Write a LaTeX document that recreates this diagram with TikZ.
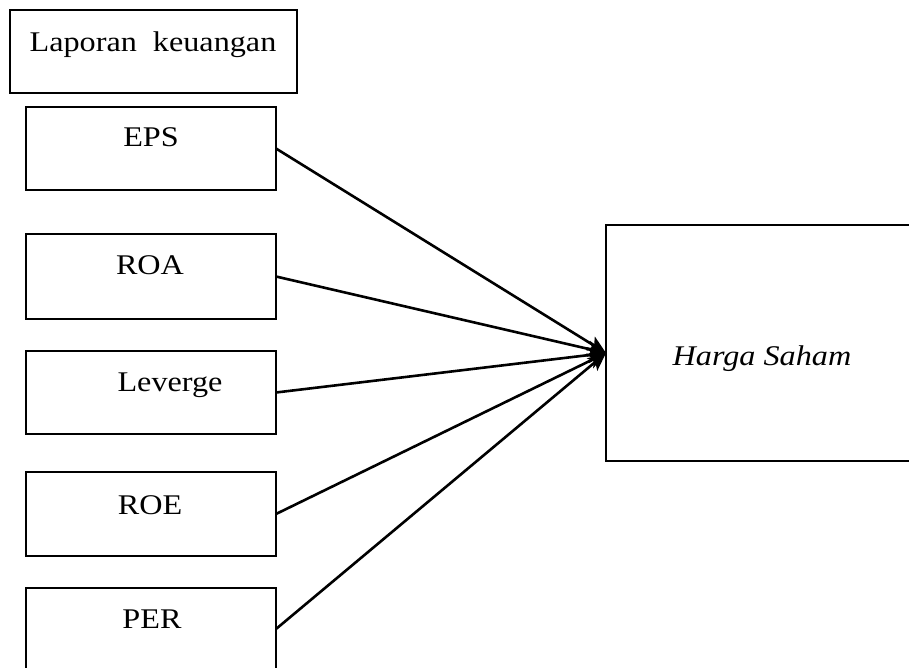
\documentclass[tikz,border=0pt]{standalone}
\usepackage{fontspec}
\setmainfont{Liberation Serif}[FakeStretch=1.13]
\usetikzlibrary{arrows.meta}
\begin{document}
\begin{tikzpicture}[x=1pt,y=-1pt,
  box/.style={draw=black,line width=2.6pt,anchor=north west,inner sep=0pt,outer sep=0pt},
  txt/.style={anchor=base,inner sep=0pt,font=\fontsize{28.5}{34}\selectfont},
  conn/.style={line width=2.6pt,-{Stealth[length=18pt,width=16pt,inset=4pt]}}]
\useasboundingbox (0,0) rectangle (909,668);
\node[box,minimum width=287pt,minimum height=83pt] (lap) at (10,10) {};
\node[box,minimum width=250pt,minimum height=83pt] (eps) at (26,107) {};
\node[box,minimum width=250pt,minimum height=85pt] (roa) at (26,234) {};
\node[box,minimum width=250pt,minimum height=83pt] (lev) at (26,351) {};
\node[box,minimum width=250pt,minimum height=84pt] (roe) at (26,472) {};
\node[box,minimum width=250pt,minimum height=82pt] (per) at (26,588) {};
\node[box,minimum width=310pt,minimum height=236pt] (hs) at (606,225) {};
\node[txt] (laptxt) at (153,52) {Laporan\ \ keuangan};
\node[txt] (epstxt) at (151,147) {EPS};
\node[txt] (roatxt) at (150,274) {ROA};
\node[txt] (levtxt) at (170,391) {Leverge};
\node[txt] (roetxt) at (150,514) {ROE};
\node[txt] (pertxt) at (152,628) {PER};
\node[txt] (hstxt) at (762,365) {\itshape Harga Saham};
\coordinate (tip) at (606,353);
\draw[conn] (eps.east) -- (tip);
\draw[conn] (roa.east) -- (tip);
\draw[conn] (lev.east) -- (tip);
\draw[conn] (roe.east) -- (tip);
\draw[conn] (per.east) -- (tip);
\end{tikzpicture}
\end{document}
